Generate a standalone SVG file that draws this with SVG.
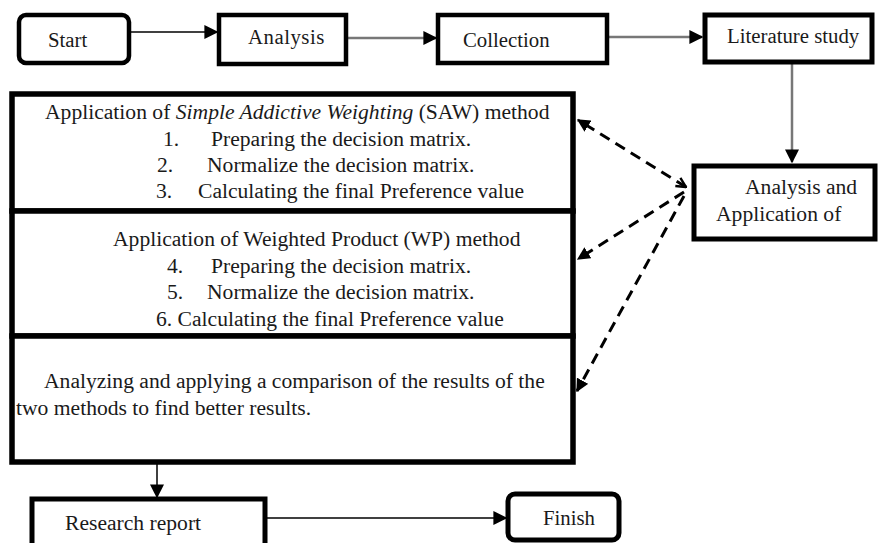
<svg xmlns="http://www.w3.org/2000/svg" width="891" height="543" viewBox="0 0 891 543">
<style>
text{font-family:"Liberation Serif","Times New Roman",serif;font-size:21.6px;fill:#1a1a1a}
.top{font-size:20.8px}
.box{fill:#fff;stroke:#000;stroke-width:4.5}
.big{fill:#fff;stroke:#000;stroke-width:5.5}
.thin{fill:none;stroke:#000;stroke-width:1.5}
.gray{fill:none;stroke:#777;stroke-width:2.5}
.dash{fill:none;stroke:#000;stroke-width:3;stroke-dasharray:11 7}
</style>
<defs>
<marker id="ah" viewBox="0 0 10 10" refX="9" refY="5" markerWidth="14" markerHeight="14" markerUnits="userSpaceOnUse" orient="auto"><path d="M0,0 L10,5 L0,10 z" fill="#000"/></marker>
<marker id="ahd" viewBox="0 0 10 10" refX="9" refY="5" markerWidth="13" markerHeight="13" markerUnits="userSpaceOnUse" orient="auto"><path d="M0,0 L10,5 L0,10 z" fill="#000"/></marker>
<marker id="chev" viewBox="0 0 10 10" refX="9" refY="5" markerWidth="12" markerHeight="12" markerUnits="userSpaceOnUse" orient="auto-start-reverse"><path d="M1,1 L9,5 L1,9" fill="none" stroke="#000" stroke-width="2"/></marker>
</defs>
<g id="connectors">
<line class="thin" x1="130" y1="32" x2="217" y2="32" marker-end="url(#ah)"/>
<line class="gray" x1="347" y1="38" x2="436" y2="38" marker-end="url(#ah)"/>
<line class="gray" x1="608" y1="37" x2="702" y2="37" marker-end="url(#ah)"/>
<line class="gray" x1="792" y1="63" x2="792" y2="162" marker-end="url(#ah)"/>
<line class="dash" x1="686" y1="187" x2="578" y2="120" marker-start="url(#chev)" marker-end="url(#ahd)"/>
<line class="dash" x1="684" y1="192" x2="578" y2="259" marker-end="url(#ahd)"/>
<line class="dash" x1="684" y1="196" x2="577" y2="391" marker-end="url(#ahd)"/>
<line class="thin" x1="157" y1="462" x2="157" y2="497" marker-end="url(#ah)"/>
<line class="thin" x1="265" y1="518" x2="506" y2="518" marker-end="url(#ah)"/>
</g>
<g id="start"><rect class="box" x="19" y="15" width="110" height="48" rx="7"/><text class="top" x="48" y="47">Start</text></g>
<g id="analysis"><rect class="box" x="219" y="15" width="127" height="49"/><text class="top" x="248" y="44" letter-spacing="0.5">Analysis</text></g>
<g id="collection"><rect class="box" x="438" y="15" width="169" height="48"/><text class="top" x="463" y="47">Collection</text></g>
<g id="literature"><rect class="box" x="705" y="15" width="167" height="47" style="stroke-width:5"/><text class="top" x="727" y="43">Literature study</text></g>
<g id="analysis-application"><rect class="box" x="694" y="166" width="181" height="73" style="stroke-width:5"/><text x="745" y="194">Analysis and</text><text x="716" y="221">Application of</text></g>
<g id="saw"><rect class="big" x="12" y="94" width="561" height="117"/>
<text x="45" y="119">Application of <tspan font-style="italic">Simple Addictive Weighting</tspan> (SAW) method</text>
<text x="163" y="146">1.<tspan x="211">Preparing the decision matrix.</tspan></text>
<text x="157" y="172">2.<tspan x="207">Normalize the decision matrix.</tspan></text>
<text x="156" y="198">3.<tspan x="198">Calculating the final Preference value</tspan></text>
</g>
<g id="wp"><rect class="big" x="12" y="211" width="561" height="125"/>
<text x="113" y="246">Application of Weighted Product (WP) method</text>
<text x="167" y="273">4.<tspan x="211">Preparing the decision matrix.</tspan></text>
<text x="167" y="299">5.<tspan x="207">Normalize the decision matrix.</tspan></text>
<text x="156" y="326">6. Calculating the final Preference value</text>
</g>
<g id="compare"><rect class="big" x="12" y="336" width="561" height="126"/>
<text x="44" y="388">Analyzing and applying a comparison of the results of the</text>
<text x="16" y="415">two methods to find better results.</text>
</g>
<g id="report"><rect class="box" x="32" y="499" width="233" height="50" style="stroke-width:5"/><text x="65" y="530">Research report</text></g>
<g id="finish"><rect class="box" x="508" y="494" width="111" height="46" rx="7" style="stroke-width:5"/><text class="top" x="543" y="525">Finish</text></g>
</svg>
